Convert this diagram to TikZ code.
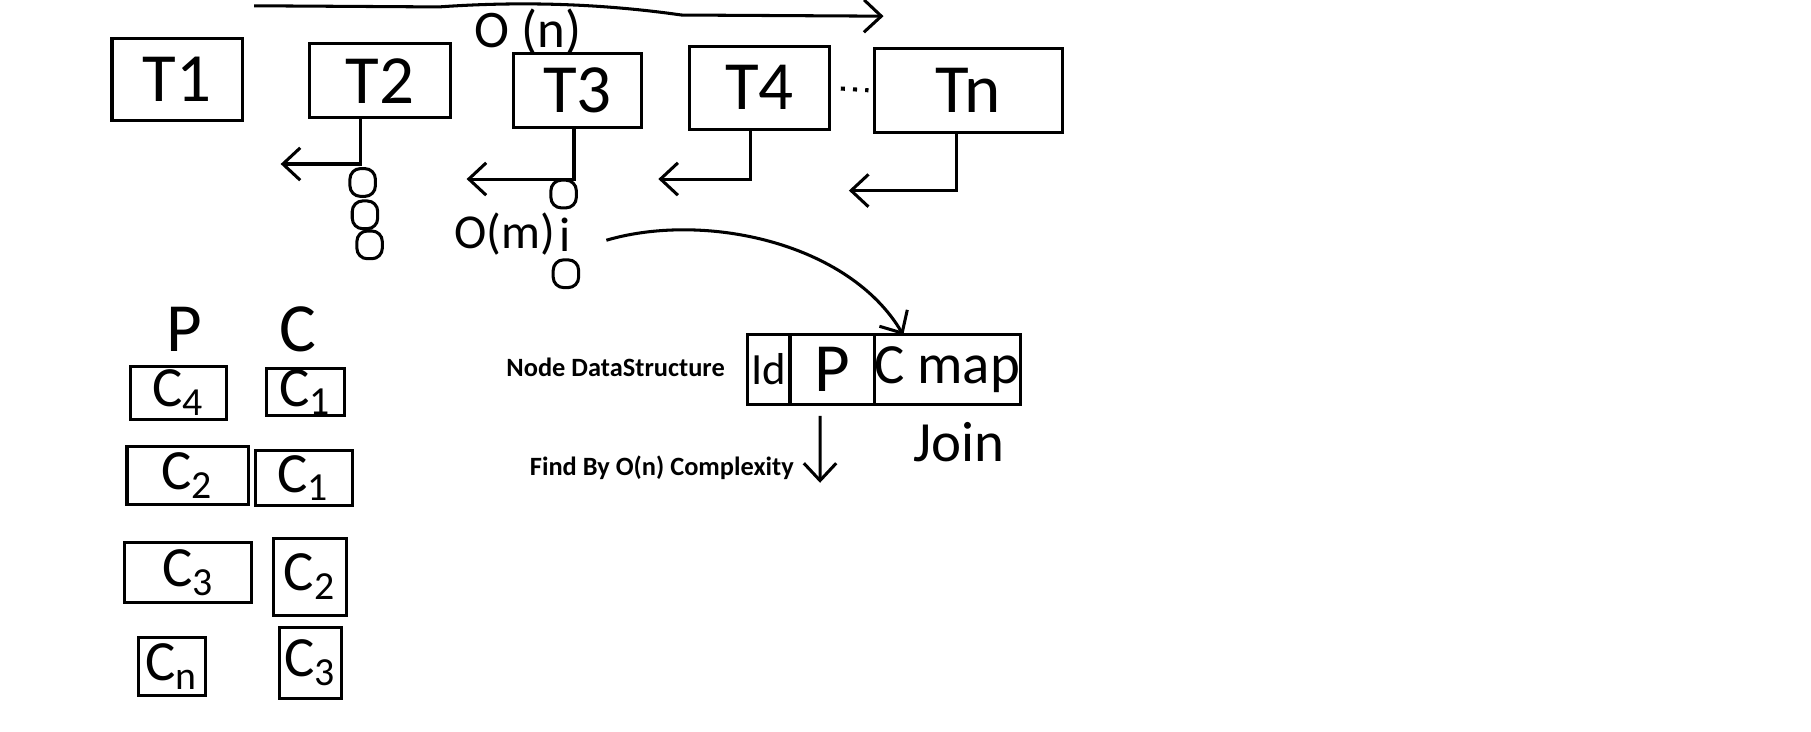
\documentclass[tikz,border=0pt]{standalone}
\usepackage{fontspec}
\setmainfont{Carlito}
\usepackage{tikz}
\usetikzlibrary{positioning,arrows.meta}

\begin{document}
\begin{tikzpicture}[
  x=0.01cm, y=-0.01cm,
  line width=0.75pt,
  tbox/.style={draw, inner sep=0pt, outer sep=0pt, font=\fontsize{17}{17}\selectfont},
  cbox/.style={draw, inner sep=0pt, outer sep=0pt, font=\fontsize{14}{14}\selectfont},
  bead/.style={draw, rounded corners=0.9mm, minimum width=2.2mm, minimum height=2.4mm,
               inner sep=0pt},
  cell/.style={draw, inner sep=0pt, outer sep=0pt, minimum height=6mm},
  hand/.style={font=\fontsize{14}{14}\selectfont},
  note/.style={font=\bfseries\fontsize{6.5}{7}\selectfont},
  harr/.style={-{Straight Barb[length=1.5mm, width=2.8mm]}},
]
  \useasboundingbox (0,0) rectangle (1568,633);

  % Row of tables T1 ... Tn
  \node[tbox, minimum width=11.3mm, minimum height=7.1mm] (t1) at (153.5,68.5) {T1};
  \node[tbox, minimum width=12.2mm, minimum height=6.4mm] (t2) at (329,70)   {T2};
  \node[tbox, minimum width=11.0mm, minimum height=6.4mm] (t3) at (500,78)   {T3};
  \node[tbox, minimum width=12.1mm, minimum height=7.2mm] (t4) at (657.5,76) {T4};
  \node[tbox, minimum width=16.3mm, minimum height=7.3mm] (tn) at (838.5,78.5) {Tn};
  \draw[dotted, line width=1pt, shorten <=1mm, shorten >=0.5mm] (t4.east) -- (tn.west);

  % Scan over the tables
  \coordinate (on1) at (220,5);
  \coordinate (on2) at (765,14);
  \draw[harr] (on1) -- (380,6) .. controls (450,1) and (520,3) .. (590,13) -- (on2);
  \node[hand, font=\fontsize{13}{13}\selectfont] (on) at (457,28) {O (n)};

  % Stems out of the tables
  \coordinate (e2) at (243,142);
  \coordinate (e3) at (404,155);
  \coordinate (e4) at (570,155);
  \coordinate (en) at (735,165);
  \draw[harr] ([xshift=-1.7mm]t2.south) |- (e2);
  \draw[harr] ([xshift=-0.3mm]t3.south) |- (e3);
  \draw[harr] ([xshift=-0.75mm]t4.south) |- (e4);
  \draw[harr] ([xshift=-1.05mm]tn.south) |- (en);

  % Rows under T2 and T3
  \node[bead] (b21) at (314,158) {};
  \node[bead] (b22) at (316,186) {};
  \node[bead] (b23) at (320,212) {};
  \node[bead] (b31) at (488,168) {};
  \node[hand, font=\fontsize{12}{12}\selectfont] (b3i) at (489,203) {i};
  \node[bead] (b32) at (490,237) {};
  \node[hand, font=\fontsize{12}{12}\selectfont] (om) at (437,203) {O(m)};

  % Node record
  \node[note] (nds) at (533,318) {Node DataStructure};
  \node[cell, minimum width=3.7mm, font=\fontsize{11}{11}\selectfont] (idc) at (665.5,320) {Id};
  \node[cell, minimum width=7.3mm, right=0pt of idc, font=\fontsize{17}{17}\selectfont] (pc) {P};
  \node[cell, minimum width=11.1mm, right=0pt of pc, font=\fontsize{14}{14}\selectfont] (cm) {C map};
  \coordinate (cs) at (525,208);
  \draw[harr] (cs) .. controls (610,183) and (735,210) .. ([xshift=2.5mm]cm.north west);

  \coordinate (fd) at (710,418);
  \draw[harr, shorten <=1mm] ([xshift=-1.05mm]pc.south) -- (fd);
  \node[note] (find) at (573,405) {Find By O(n) Complexity};
  \node[hand] (join) at (830,383) {Join};

  % P and C columns
  \node[hand, font=\fontsize{17}{17}\selectfont] (pl) at (160,285) {P};
  \node[hand, font=\fontsize{17}{17}\selectfont] (cl) at (258,285) {C};

  \node[cbox, minimum width=8.3mm,  minimum height=4.6mm] (p4) at (154.5,340) {C\textsubscript{4}};
  \node[cbox, minimum width=10.5mm, minimum height=5.0mm] (p2) at (162.5,412) {C\textsubscript{2}};
  \node[cbox, minimum width=11.0mm, minimum height=5.2mm] (p3) at (163,496)   {C\textsubscript{3}};
  \node[cbox, minimum width=5.8mm,  minimum height=5.0mm] (pn) at (149,577)   {C\textsubscript{n}};

  \node[cbox, minimum width=6.7mm, minimum height=4.1mm] (c1)  at (264.5,339.5) {C\textsubscript{1}};
  \node[cbox, minimum width=8.4mm, minimum height=4.8mm] (c1b) at (263,414)     {C\textsubscript{1}};
  \node[cbox, minimum width=6.3mm, minimum height=6.7mm] (c2)  at (268.5,499.5) {C\textsubscript{2}};
  \node[cbox, minimum width=5.4mm, minimum height=6.2mm] (c3)  at (269,574)     {C\textsubscript{3}};
\end{tikzpicture}
\end{document}
